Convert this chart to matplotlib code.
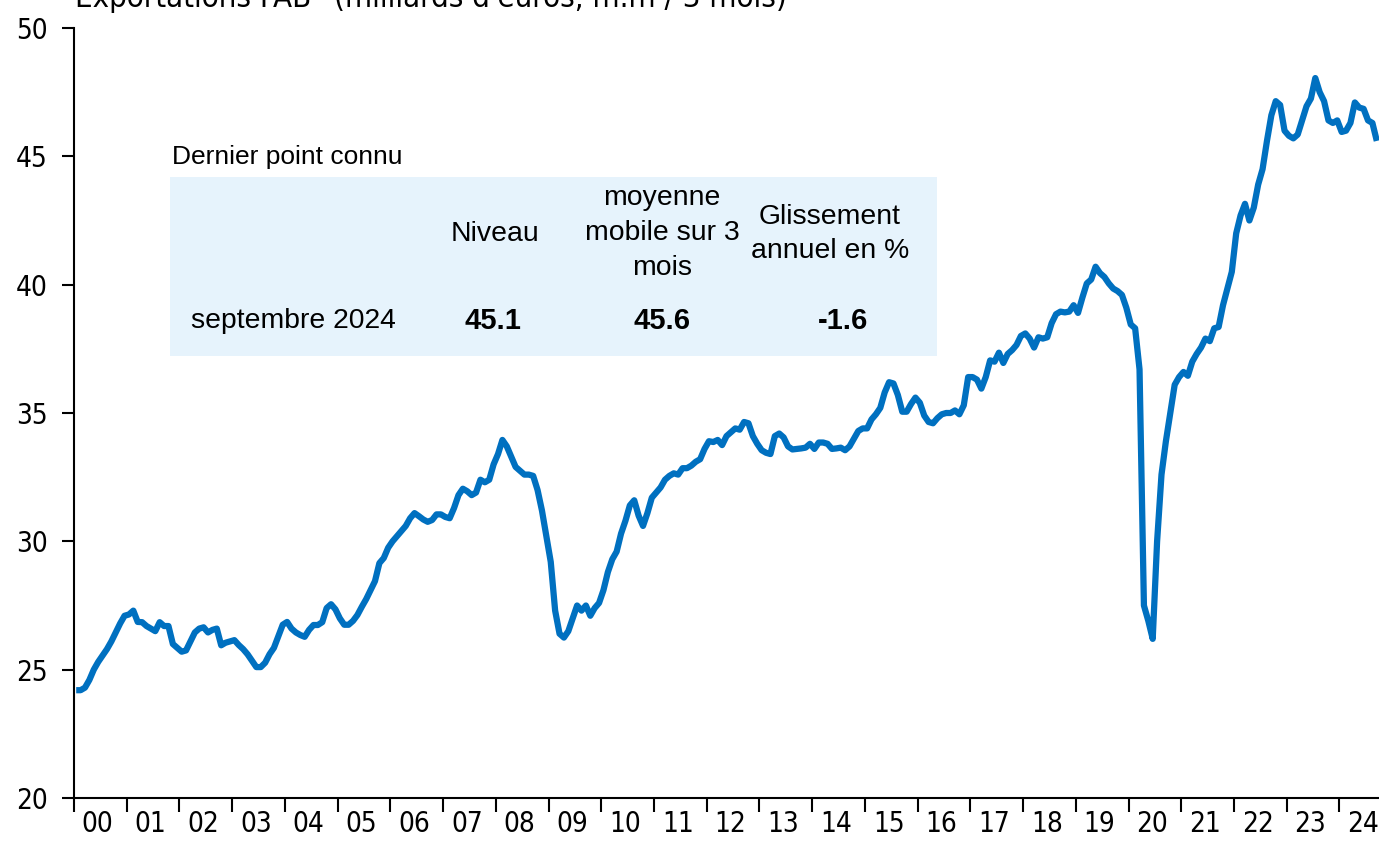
import matplotlib
matplotlib.use("Agg")
import matplotlib.pyplot as plt
from matplotlib import font_manager as fm
from matplotlib.patches import Rectangle
import numpy as np

# ---------------- data (monthly, 3-month moving average, bn EUR) ----------------
y2000 = [24.2, 24.2, 24.3, 24.6, 25.0, 25.3, 25.55, 25.8, 26.1, 26.45, 26.8, 27.1]
y2001 = [27.15, 27.3, 26.86, 26.85, 26.7, 26.6, 26.5, 26.85, 26.7, 26.7, 26.0, 25.85]
y2002 = [25.7, 25.75, 26.1, 26.45, 26.6, 26.65, 26.45, 26.55, 26.6, 25.95, 26.05, 26.1]
y2003 = [26.15, 25.96, 25.8, 25.6, 25.35, 25.1, 25.1, 25.27, 25.6, 25.85, 26.3, 26.75]
y2004 = [26.86, 26.6, 26.45, 26.35, 26.28, 26.55, 26.74, 26.74, 26.85, 27.4, 27.55, 27.35]
y2005 = [27.0, 26.75, 26.75, 26.9, 27.13, 27.45, 27.75, 28.1, 28.45, 29.15, 29.35, 29.75]
y2006 = [30.0, 30.2, 30.4, 30.6, 30.9, 31.1, 30.98, 30.85, 30.76, 30.83, 31.05, 31.05]
y2007 = [30.95, 30.9, 31.3, 31.8, 32.05, 31.95, 31.8, 31.9, 32.4, 32.3, 32.4, 33.0]
y2008 = [33.4, 33.95, 33.7, 33.3, 32.9, 32.75, 32.6, 32.6, 32.55, 32.0, 31.2, 30.2]
y2009 = [29.2, 27.3, 26.4, 26.25, 26.5, 27.0, 27.5, 27.3, 27.5, 27.1, 27.4, 27.6]
y2010 = [28.1, 28.8, 29.3, 29.6, 30.3, 30.8, 31.4, 31.6, 31.0, 30.6, 31.1, 31.7]
y2011 = [31.9, 32.1, 32.4, 32.55, 32.65, 32.6, 32.85, 32.85, 32.95, 33.1, 33.2, 33.6]
y2012 = [33.9, 33.87, 33.95, 33.75, 34.1, 34.25, 34.4, 34.35, 34.65, 34.6, 34.1, 33.8]
y2013 = [33.55, 33.45, 33.4, 34.1, 34.2, 34.05, 33.7, 33.58, 33.6, 33.62, 33.65, 33.8]
y2014 = [33.6, 33.85, 33.85, 33.8, 33.6, 33.62, 33.65, 33.55, 33.7, 34.0, 34.3, 34.4]
y2015 = [34.4, 34.75, 34.95, 35.2, 35.8, 36.2, 36.15, 35.7, 35.05, 35.05, 35.35, 35.6]
y2016 = [35.4, 34.9, 34.65, 34.6, 34.8, 34.95, 35.0, 35.0, 35.1, 34.95, 35.3, 36.4]
y2017 = [36.4, 36.3, 35.95, 36.4, 37.05, 37.0, 37.35, 36.95, 37.3, 37.45, 37.65, 38.0]
y2018 = [38.1, 37.9, 37.55, 37.95, 37.9, 37.95, 38.5, 38.85, 38.95, 38.92, 38.95, 39.2]
y2019 = [38.9, 39.5, 40.05, 40.2, 40.7, 40.45, 40.3, 40.05, 39.85, 39.75, 39.6, 39.1]
y2020 = [38.45, 38.3, 36.7, 27.5, 26.9, 26.2, 30.0, 32.6, 33.9, 35.0, 36.1, 36.4]
y2021 = [36.6, 36.45, 37.0, 37.3, 37.55, 37.9, 37.8, 38.3, 38.35, 39.2, 39.85, 40.5]
y2022 = [42.0, 42.7, 43.15, 42.5, 43.0, 43.9, 44.5, 45.6, 46.6, 47.15, 47.0, 46.0]
y2023 = [45.8, 45.7, 45.85, 46.4, 46.95, 47.25, 48.05, 47.5, 47.15, 46.4, 46.3, 46.4]
y2024 = [45.95, 46.0, 46.3, 47.1, 46.9, 46.85, 46.4, 46.3, 45.6]

years = list(range(2000, 2025))
year_labels = ["%02d" % (y % 100) for y in years]
y_ticks = [20, 25, 30, 35, 40, 45, 50]

title = "Exportations FAB* (milliards d'euros, m.m / 3 mois)"
box_title = "Dernier point connu"
col_headers = ["Niveau", "moyenne\nmobile sur 3\nmois", "Glissement\nannuel en %"]
row_label = "septembre 2024"
row_values = ["45.1", "45.6", "-1.6"]

series = (y2000 + y2001 + y2002 + y2003 + y2004 + y2005 + y2006 + y2007 + y2008
          + y2009 + y2010 + y2011 + y2012 + y2013 + y2014 + y2015 + y2016 + y2017
          + y2018 + y2019 + y2020 + y2021 + y2022 + y2023 + y2024)

# ---------------- fonts ----------------
avail = {f.name for f in fm.fontManager.ttflist}
def pick(*names):
    for n in names:
        if n in avail:
            return n
    return "DejaVu Sans"
ARIAL = pick("Liberation Sans", "Arimo", "DejaVu Sans")
COND = dict(family="DejaVu Sans", stretch="condensed")

# ---------------- figure ----------------
W, H = 1379, 842
fig = plt.figure(figsize=(W / 100, H / 100), dpi=100)
ax = fig.add_axes([74 / W, 1 - 798 / H, (W - 74) / W, (798 - 28) / H])

x = 2000 + (np.arange(len(series)) + 0.5) / 12.0
ax.plot(x, series, color="#0070C0", lw=4.5, solid_joinstyle="round", solid_capstyle="butt")

ax.set_xlim(2000, 2024.75)
ax.set_ylim(20, 50)
ax.set_yticks(y_ticks)
ax.set_yticklabels([str(v) for v in y_ticks], fontsize=20, **COND)
ax.set_xticks(years)
ax.set_xticklabels([""] * len(years))
ax.set_xticks([y + 0.45 for y in years], minor=True)
ax.set_xticklabels(year_labels, minor=True, fontsize=20, **COND)

ax.tick_params(axis="x", which="major", length=10, width=1.5, direction="out", color="black")
ax.tick_params(axis="x", which="minor", length=0, pad=9)
ax.tick_params(axis="y", which="major", length=9, width=1.5, direction="out", pad=10)

for s in ("top", "right"):
    ax.spines[s].set_visible(False)
for s in ("left", "bottom"):
    ax.spines[s].set_linewidth(1.5)
    ax.spines[s].set_color("black")

# ---------------- title (partly clipped at top, as in reference) ----------------
t = fig.text(75 / W, 1 - 7 / H, title, fontsize=20, va="baseline", ha="left", **COND)
fig.canvas.draw()
w = t.get_window_extent().width
t.set_fontsize(20 * 711.0 / w)

# ---------------- info box ----------------
fig.patches.append(Rectangle((170 / W, 1 - 356 / H), (937 - 170) / W, (356 - 177) / H,
                             transform=fig.transFigure, facecolor="#E6F3FC",
                             edgecolor="none", zorder=2))
fig.text(172 / W, 1 - 157 / H, box_title, fontfamily=ARIAL, fontsize=19,
         ha="left", va="center", zorder=3)
hx = [495, 662, 830]
hy = [234, 233, 234]
for cx, cy, lab in zip(hx, hy, col_headers):
    fig.text(cx / W, 1 - cy / H, lab, fontfamily=ARIAL, fontsize=20.4,
             ha="center", va="center", multialignment="center", linespacing=1.45, zorder=3)
fig.text(293 / W, 1 - 321 / H, row_label, fontfamily=ARIAL, fontsize=20.4,
         ha="center", va="center", zorder=3)
vx = [493, 662, 843]
for cx, lab in zip(vx, row_values):
    fig.text(cx / W, 1 - 321 / H, lab, fontfamily=ARIAL, fontsize=21,
             fontweight="bold", ha="center", va="center", zorder=3)

fig.savefig("out.png", dpi=100)
